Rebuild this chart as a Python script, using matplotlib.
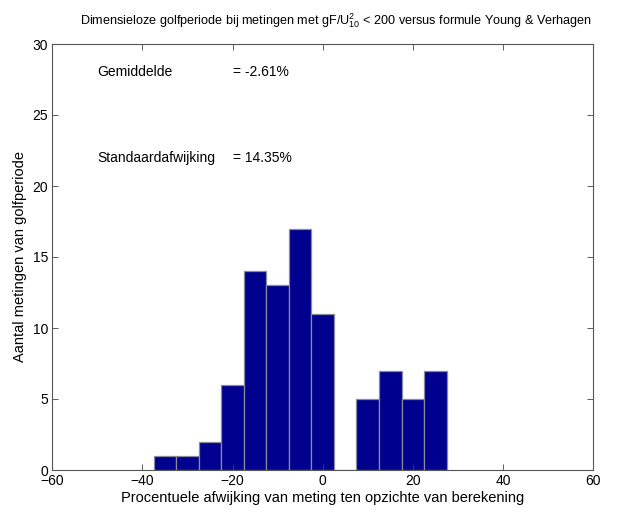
import numpy as np
import matplotlib
matplotlib.use("Agg")
import matplotlib.pyplot as plt

plt.rcParams['font.family'] = ['Liberation Sans', 'DejaVu Sans']
plt.rcParams['mathtext.fontset'] = 'custom'
plt.rcParams['mathtext.rm'] = 'Liberation Sans'
plt.rcParams['mathtext.it'] = 'Liberation Sans:italic'
plt.rcParams['mathtext.default'] = 'regular'

# data
bin_centers = [-35, -30, -25, -20, -15, -10, -5, 0, 5, 10, 15, 20, 25]
counts = [1, 1, 2, 6, 14, 13, 17, 11, 0, 5, 7, 5, 7]
bin_width = 5
xticks = [-60, -40, -20, 0, 20, 40, 60]
yticks = [0, 5, 10, 15, 20, 25, 30]
title = r"Dimensieloze golfperiode bij metingen met gF/U$_{10}^{2}$ < 200 versus formule Young & Verhagen"
xlabel = "Procentuele afwijking van meting ten opzichte van berekening"
ylabel = "Aantal metingen van golfperiode"
stat_names = ["Gemiddelde", "Standaardafwijking"]
stat_values = ["= -2.61%", "= 14.35%"]
stat_y = [28, 22]

fig = plt.figure(figsize=(6.19, 5.12), dpi=100)
ax = fig.add_axes([52.3/619, 42/512, 540.7/619, 426/512])

ax.bar(bin_centers, counts, width=bin_width, align='center', color='#00008F',
       edgecolor='#8a8a9a', linewidth=0.9)

ax.set_xlim(-60, 60)
ax.set_ylim(0, 30)
ax.set_xticks(xticks)
ax.set_yticks(yticks)
ax.tick_params(direction='in', top=True, right=True, length=4, width=0.6,
               labelsize=10, color='#444444', pad=3)
for s in ax.spines.values():
    s.set_linewidth(0.8)
    s.set_color('#555555')

ax.set_title(title, fontsize=9.1, pad=14, x=0.525)
ax.set_xlabel(xlabel, fontsize=10.5, labelpad=2)
ax.set_ylabel(ylabel, fontsize=10.5, labelpad=4)

for name, val, y in zip(stat_names, stat_values, stat_y):
    ax.text(-50, y, name, fontsize=10, va='center', ha='left')
    ax.text(-20, y, val, fontsize=10, va='center', ha='left')

fig.savefig("out.png", dpi=100)
